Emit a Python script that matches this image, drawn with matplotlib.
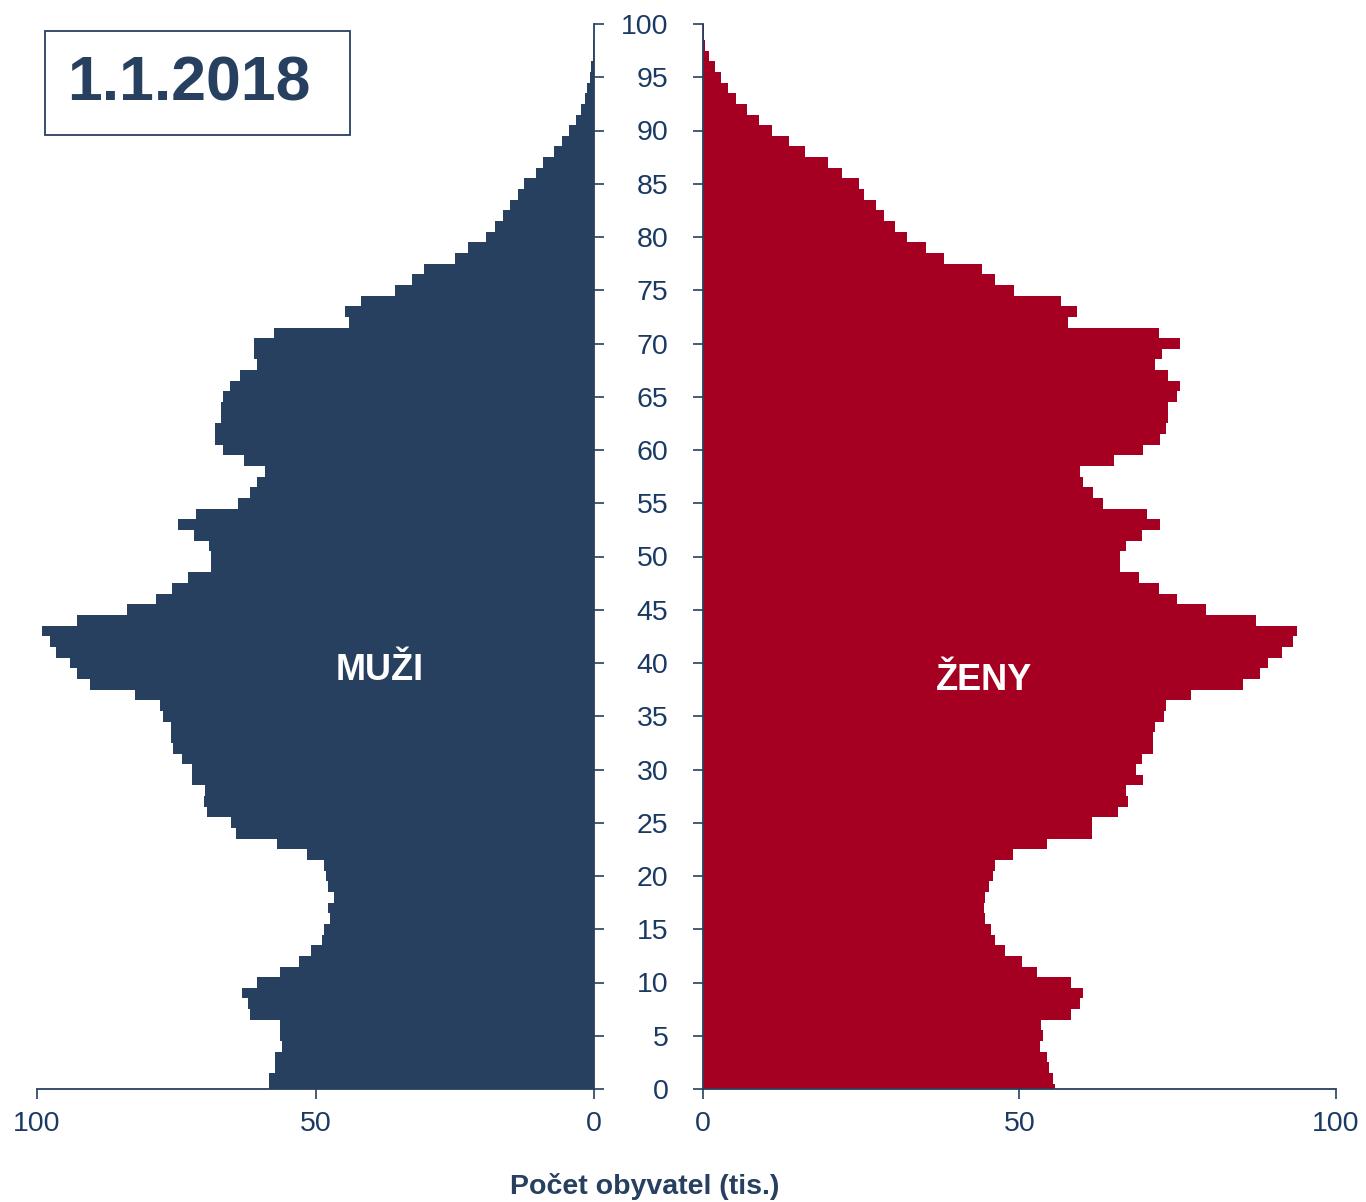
import numpy as np
import matplotlib.pyplot as plt
import matplotlib.patches as mpatches

plt.rcParams['font.family'] = ['Liberation Sans', 'DejaVu Sans']

#ages 0..100
ages = np.arange(0, 101)

#population in thousands
muzi = [58.4, 58.4, 57.3, 57.3, 56.1, 56.4, 56.4, 61.8, 62.2, 63.2,
        60.5, 56.4, 52.9, 50.8, 48.8, 48.4, 47.4, 47.7, 46.7, 47.7,
        48.1, 48.4, 51.6, 57.0, 64.2, 65.2, 69.4, 70.1, 69.8, 72.2,
        72.2, 73.9, 75.6, 76.0, 76.0, 77.4, 78.0, 82.4, 90.4, 92.8,
        94.1, 96.6, 97.7, 99.1, 92.8, 83.9, 78.7, 75.7, 72.9, 68.8,
        68.8, 69.1, 71.9, 74.6, 71.5, 63.9, 61.8, 60.5, 59.1, 62.9,
        66.6, 68.0, 68.0, 67.0, 67.0, 66.6, 65.3, 63.5, 60.5, 61.1,
        61.1, 57.4, 44.0, 44.7, 41.9, 35.8, 32.7, 30.6, 25.0, 22.6,
        19.4, 17.7, 16.3, 15.0, 13.6, 12.6, 10.5, 9.1, 7.1, 5.7,
        4.4, 3.3, 2.3, 1.6, 1.2, 0.8, 0.5, 0.25, 0.12, 0.06,
        0.03]
zeny = [55.6, 55.3, 54.7, 54.3, 53.2, 53.7, 53.4, 58.2, 59.5, 60.1,
        58.2, 52.8, 50.4, 47.7, 46.1, 45.5, 44.6, 44.4, 44.6, 45.2,
        45.8, 46.1, 48.9, 54.3, 61.4, 61.4, 65.6, 67.1, 66.8, 69.5,
        68.4, 69.3, 71.1, 71.1, 71.4, 72.9, 73.2, 77.1, 85.3, 88.0,
        89.3, 91.4, 93.2, 93.8, 87.4, 79.5, 74.9, 72.0, 68.9, 65.9,
        65.9, 66.8, 69.3, 72.2, 70.1, 63.2, 61.6, 60.1, 59.6, 65.0,
        69.5, 72.2, 73.1, 73.4, 73.4, 74.9, 75.3, 73.4, 71.4, 72.5,
        75.3, 72.0, 57.7, 59.1, 56.5, 49.2, 46.1, 44.0, 38.0, 35.3,
        32.2, 30.4, 28.6, 27.4, 25.5, 24.7, 21.9, 19.7, 16.1, 13.6,
        10.9, 8.9, 7.0, 5.2, 3.9, 2.8, 1.9, 0.95, 0.35, 0.15,
        0.08]

xticks = [0, 50, 100]
yticks = np.arange(0, 101, 5)

#colours
cm = "#27405F"
cz = "#A50021"
ctext = "#1B3A63"

W, H = 1366, 1202
fig = plt.figure(figsize=(W/100, H/100), dpi=100)

#axes in pixel coords -> figure fractions
bot = 1 - 1089/H
hgt = (1089 - 24)/H
axm = fig.add_axes([37/W, bot, 557/W, hgt])
axz = fig.add_axes([703/W, bot, 633/W, hgt])

axm.barh(ages, muzi, height=1.0, color=cm, linewidth=0)
axz.barh(ages, zeny, height=1.0, color=cz, linewidth=0)

axm.set_xlim(100, 0)
axz.set_xlim(0, 100)
for ax in (axm, axz):
    ax.set_ylim(0, 100)
    ax.set_xticks(xticks)
    ax.set_xticklabels([str(v) for v in xticks])
    ax.set_yticks(yticks)
    for s in ax.spines.values():
        s.set_color(cm)
        s.set_linewidth(1.3)
    ax.spines['top'].set_visible(False)
    ax.tick_params(axis='both', colors=cm, length=7, width=1.2,
                   labelsize=20.5, labelcolor=ctext)
    ax.tick_params(axis='x', pad=9)

#men: spine on right, no labels
axm.spines['left'].set_visible(False)
axm.yaxis.tick_right()
axm.tick_params(axis='y', labelright=False)

#women: spine on left, labels in the middle gap
axz.spines['right'].set_visible(False)
axz.tick_params(axis='y', pad=18)
axz.set_yticklabels([str(v) for v in yticks])

#labels inside bars
fig.text(380/W, 1 - 671/H, "MUŽI", color="white", fontsize=26,
         fontweight="bold", ha="center", va="center")
fig.text(984/W, 1 - 680/H, "ŽENY", color="white", fontsize=26,
         fontweight="bold", ha="center", va="center")

#date box
fig.add_artist(mpatches.Rectangle((45/W, 1 - 135/H), 305/W, 104/H,
               transform=fig.transFigure, fill=False, edgecolor=cm, linewidth=1.3))
fig.text(189/W, 1 - 84/H, "1.1.2018", color=cm, fontsize=45,
         fontweight="bold", ha="center", va="center")

fig.text(645/W, 1 - 1187/H, "Počet obyvatel (tis.)", color=cm, fontsize=20.5,
         fontweight="bold", ha="center", va="center")

plt.savefig("out.png", dpi=100)
